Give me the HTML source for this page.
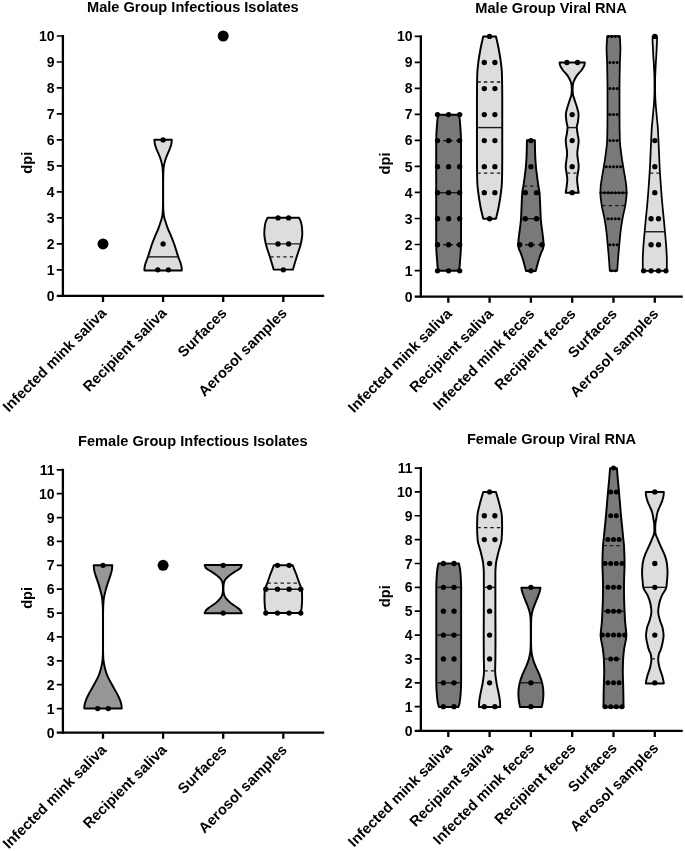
<!DOCTYPE html>
<html lang="en">
<head>
<meta charset="utf-8">
<title>Violin plots</title>
<style>html,body{margin:0;padding:0;background:#fff}svg{display:block}</style>
</head>
<body>
<svg width="685" height="851" viewBox="0 0 685 851" font-family='"Liberation Sans", Arial, Helvetica, sans-serif' font-weight="bold" fill="#000">
<rect width="685" height="851" fill="#fff"/>
<path d="M171.82 139.82 C171.67 141.15 171.59 142.48 171.38 143.81 C171.22 144.79 170.87 145.77 170.55 146.75 C169.92 148.71 168.94 150.66 168.15 152.62 C167.35 154.58 166.43 156.54 165.8 158.49 C165.16 160.45 164.58 162.41 164.18 164.37 C163.94 165.54 163.69 166.72 163.59 167.89 C163.44 169.65 163.34 171.42 163.3 173.18 C163.21 177.11 163.15 181.05 163.15 184.99 C163.15 189.99 163.15 195 163.15 200 C163.15 202.94 163.22 205.87 163.3 208.81 C163.36 210.77 163.52 212.73 163.74 214.68 C163.85 215.66 164.05 216.64 164.27 217.62 C164.7 219.58 165.45 221.54 166.09 223.49 C166.73 225.45 167.37 227.41 168.15 229.37 C168.48 230.21 168.89 231.05 169.26 231.9 C169.91 233.36 170.59 234.82 171.19 236.28 C172.25 238.85 173.27 241.42 174.17 243.99 C174.8 245.8 175.35 247.61 175.92 249.42 C176.66 251.75 177.32 254.09 178.11 256.42 C178.81 258.47 179.73 260.51 180.39 262.55 C180.76 263.72 181.19 264.89 181.4 266.06 C181.55 266.93 181.75 267.81 181.75 268.69 C181.75 269.27 181.75 269.85 181.75 270.44 L144.45 270.44 C144.45 269.85 144.45 269.27 144.45 268.69 C144.45 267.81 144.65 266.93 144.8 266.06 C145.01 264.89 145.44 263.72 145.81 262.55 C146.47 260.51 147.39 258.47 148.09 256.42 C148.88 254.09 149.54 251.75 150.28 249.42 C150.85 247.61 151.4 245.8 152.03 243.99 C152.93 241.42 153.95 238.85 155.01 236.28 C155.61 234.82 156.29 233.36 156.94 231.9 C157.31 231.05 157.72 230.21 158.05 229.37 C158.83 227.41 159.47 225.45 160.11 223.49 C160.75 221.54 161.5 219.58 161.93 217.62 C162.15 216.64 162.35 215.66 162.46 214.68 C162.68 212.73 162.84 210.77 162.9 208.81 C162.98 205.87 163.05 202.94 163.05 200 C163.05 195 163.05 189.99 163.05 184.99 C163.05 181.05 162.99 177.11 162.9 173.18 C162.86 171.42 162.76 169.65 162.61 167.89 C162.51 166.72 162.26 165.54 162.02 164.37 C161.62 162.41 161.04 160.45 160.4 158.49 C159.77 156.54 158.85 154.58 158.05 152.62 C157.26 150.66 156.28 148.71 155.65 146.75 C155.33 145.77 154.98 144.79 154.82 143.81 C154.61 142.48 154.53 141.15 154.38 139.82 Z" fill="#dddddd" stroke="#000" stroke-width="1.95" stroke-linejoin="round"/>
<path d="M147.92 256.87 H178.28" stroke="#1a1a1a" stroke-width="1.4" fill="none"/>
<circle cx="163.1" cy="139.94" r="2.65"/>
<circle cx="163.1" cy="243.88" r="2.65"/>
<circle cx="157.8" cy="269.87" r="2.65"/>
<circle cx="168.4" cy="269.87" r="2.65"/>
<path d="M299.07 217.69 C299.75 219.33 300.74 220.98 301.12 222.62 C301.58 224.58 301.94 226.54 302.06 228.49 C302.19 230.45 302.3 232.41 302.3 234.37 C302.3 237.5 301.47 240.63 300.83 243.77 C299.94 248.07 298.04 252.38 296.72 256.69 C295.4 261 294.17 265.3 292.9 269.61 L273.7 269.61 C272.43 265.3 271.2 261 269.88 256.69 C268.56 252.38 266.66 248.07 265.77 243.77 C265.13 240.63 264.3 237.5 264.3 234.37 C264.3 232.41 264.41 230.45 264.54 228.49 C264.66 226.54 265.02 224.58 265.48 222.62 C265.86 220.98 266.85 219.33 267.53 217.69 Z" fill="#dddddd" stroke="#000" stroke-width="1.95" stroke-linejoin="round"/>
<path d="M265.81 243.88 H300.79" stroke="#1a1a1a" stroke-width="1.4" fill="none"/>
<path d="M270.24 256.87 H296.66" stroke="#1a1a1a" stroke-width="1.3" stroke-dasharray="3.4 3.1" fill="none"/>
<circle cx="278" cy="217.9" r="2.65"/>
<circle cx="288.6" cy="217.9" r="2.65"/>
<circle cx="278" cy="243.88" r="2.65"/>
<circle cx="288.6" cy="243.88" r="2.65"/>
<circle cx="283.3" cy="269.87" r="2.65"/>
<circle cx="103" cy="243.88" r="5.5"/>
<circle cx="223.2" cy="36" r="5.5"/>
<path d="M62.9 35 V297" stroke="#000" stroke-width="2.3" fill="none"/>
<path d="M56.75 295.85 H324.2" stroke="#000" stroke-width="2.3" fill="none"/>
<path d="M56.75 269.87 h5.5 M56.75 243.88 h5.5 M56.75 217.9 h5.5 M56.75 191.91 h5.5 M56.75 165.93 h5.5 M56.75 139.94 h5.5 M56.75 113.96 h5.5 M56.75 87.97 h5.5 M56.75 61.99 h5.5 M56.75 36 h5.5" stroke="#000" stroke-width="1.7" fill="none"/>
<text x="54.55" y="300.9" text-anchor="end" font-size="14">0</text>
<text x="54.55" y="274.92" text-anchor="end" font-size="14">1</text>
<text x="54.55" y="248.93" text-anchor="end" font-size="14">2</text>
<text x="54.55" y="222.95" text-anchor="end" font-size="14">3</text>
<text x="54.55" y="196.96" text-anchor="end" font-size="14">4</text>
<text x="54.55" y="170.98" text-anchor="end" font-size="14">5</text>
<text x="54.55" y="144.99" text-anchor="end" font-size="14">6</text>
<text x="54.55" y="119.01" text-anchor="end" font-size="14">7</text>
<text x="54.55" y="93.02" text-anchor="end" font-size="14">8</text>
<text x="54.55" y="67.04" text-anchor="end" font-size="14">9</text>
<text x="54.55" y="41.05" text-anchor="end" font-size="14">10</text>
<path d="M103 296.7 v5.3 M163.1 296.7 v5.3 M223.2 296.7 v5.3 M283.3 296.7 v5.3" stroke="#000" stroke-width="2.3" fill="none"/>
<text transform="translate(107.4 314.05) rotate(-45)" text-anchor="end" font-size="14.7">Infected mink saliva</text>
<text transform="translate(167.5 314.05) rotate(-45)" text-anchor="end" font-size="14.7">Recipient saliva</text>
<text transform="translate(227.6 314.05) rotate(-45)" text-anchor="end" font-size="14.7">Surfaces</text>
<text transform="translate(287.7 314.05) rotate(-45)" text-anchor="end" font-size="14.7">Aerosol samples</text>
<text x="192.85" y="12.3" text-anchor="middle" font-size="14.6">Male Group Infectious Isolates</text>
<text transform="translate(31.8 162.7) rotate(-90)" text-anchor="middle" font-size="14.6">dpi</text>
<path d="M458.79 114.68 C459.08 116.05 459.49 117.43 459.67 118.8 C459.86 120.36 459.96 121.93 460.08 123.49 C460.38 127.41 460.75 131.33 460.84 135.24 C460.94 139.16 461.02 143.07 461.02 146.99 C461.02 154.82 461.02 162.65 461.02 170.48 C461.02 178.32 461.02 186.15 461.02 193.98 C461.02 200.48 461.02 206.99 461.02 213.49 C461.02 223.28 461.02 233.07 461.02 242.86 C461.02 245.6 460.89 248.35 460.78 251.09 C460.65 254.22 460.3 257.35 460.08 260.48 C459.94 262.44 459.87 264.4 459.67 266.36 C459.51 267.85 459.08 269.33 458.79 270.82 L438.41 270.82 C438.12 269.33 437.69 267.85 437.53 266.36 C437.33 264.4 437.26 262.44 437.12 260.48 C436.9 257.35 436.55 254.22 436.42 251.09 C436.31 248.35 436.18 245.6 436.18 242.86 C436.18 233.07 436.18 223.28 436.18 213.49 C436.18 206.99 436.18 200.48 436.18 193.98 C436.18 186.15 436.18 178.32 436.18 170.48 C436.18 162.65 436.18 154.82 436.18 146.99 C436.18 143.07 436.26 139.16 436.36 135.24 C436.45 131.33 436.82 127.41 437.12 123.49 C437.24 121.93 437.34 120.36 437.53 118.8 C437.71 117.43 438.12 116.05 438.41 114.68 Z" fill="#797979" stroke="#000" stroke-width="1.95" stroke-linejoin="round"/>
<path d="M436.18 192.69 H461.02" stroke="#1a1a1a" stroke-width="1.4" fill="none"/>
<path d="M436.54 244.77 H460.96" stroke="#1a1a1a" stroke-width="1.3" stroke-dasharray="3.4 3.1" fill="none"/>
<path d="M436.58 140.61 H460.92" stroke="#1a1a1a" stroke-width="1.3" stroke-dasharray="3.4 3.1" fill="none"/>
<circle cx="437.5" cy="270.81" r="2.65"/>
<circle cx="448.6" cy="270.81" r="2.65"/>
<circle cx="459.7" cy="270.81" r="2.65"/>
<circle cx="437.5" cy="244.77" r="2.65"/>
<circle cx="448.6" cy="244.77" r="2.65"/>
<circle cx="459.7" cy="244.77" r="2.65"/>
<circle cx="437.5" cy="218.73" r="2.65"/>
<circle cx="448.6" cy="218.73" r="2.65"/>
<circle cx="459.7" cy="218.73" r="2.65"/>
<circle cx="437.5" cy="192.69" r="2.65"/>
<circle cx="448.6" cy="192.69" r="2.65"/>
<circle cx="459.7" cy="192.69" r="2.65"/>
<circle cx="437.5" cy="166.65" r="2.65"/>
<circle cx="448.6" cy="166.65" r="2.65"/>
<circle cx="459.7" cy="166.65" r="2.65"/>
<circle cx="437.5" cy="140.61" r="2.65"/>
<circle cx="448.6" cy="140.61" r="2.65"/>
<circle cx="459.7" cy="140.61" r="2.65"/>
<circle cx="437.5" cy="114.57" r="2.65"/>
<circle cx="448.6" cy="114.57" r="2.65"/>
<circle cx="459.7" cy="114.57" r="2.65"/>
<path d="M495.97 36.51 C496.85 40.51 497.86 44.5 498.61 48.49 C499.49 53.19 500.33 57.89 500.9 62.59 C501.28 65.72 501.7 68.86 501.84 71.99 C502 75.51 502.09 79.04 502.13 82.56 C502.19 86.87 502.25 91.18 502.25 95.48 C502.25 109.24 502.25 122.99 502.25 136.75 C502.25 144.58 502.25 152.41 502.25 160.24 C502.25 164.55 502.19 168.86 502.13 173.16 C502.09 176.69 502 180.21 501.84 183.74 C501.71 186.79 501.28 189.85 500.9 192.9 C500.31 197.68 499.52 202.45 498.61 207.23 C497.88 211.07 496.85 214.91 495.97 218.74 L483.23 218.74 C482.35 214.91 481.32 211.07 480.59 207.23 C479.68 202.45 478.89 197.68 478.3 192.9 C477.92 189.85 477.49 186.79 477.36 183.74 C477.2 180.21 477.11 176.69 477.07 173.16 C477.01 168.86 476.95 164.55 476.95 160.24 C476.95 152.41 476.95 144.58 476.95 136.75 C476.95 122.99 476.95 109.24 476.95 95.48 C476.95 91.18 477.01 86.87 477.07 82.56 C477.11 79.04 477.2 75.51 477.36 71.99 C477.5 68.86 477.92 65.72 478.3 62.59 C478.87 57.89 479.71 53.19 480.59 48.49 C481.34 44.5 482.35 40.51 483.23 36.51 Z" fill="#dddddd" stroke="#000" stroke-width="1.95" stroke-linejoin="round"/>
<path d="M476.95 127.59 H502.25" stroke="#1a1a1a" stroke-width="1.4" fill="none"/>
<path d="M477.37 173.16 H502.13" stroke="#1a1a1a" stroke-width="1.3" stroke-dasharray="3.4 3.1" fill="none"/>
<path d="M477.38 82.02 H502.12" stroke="#1a1a1a" stroke-width="1.3" stroke-dasharray="3.4 3.1" fill="none"/>
<circle cx="489.6" cy="218.73" r="2.65"/>
<circle cx="484.3" cy="192.69" r="2.65"/>
<circle cx="494.9" cy="192.69" r="2.65"/>
<circle cx="484.3" cy="166.65" r="2.65"/>
<circle cx="494.9" cy="166.65" r="2.65"/>
<circle cx="484.3" cy="140.61" r="2.65"/>
<circle cx="494.9" cy="140.61" r="2.65"/>
<circle cx="484.3" cy="114.57" r="2.65"/>
<circle cx="494.9" cy="114.57" r="2.65"/>
<circle cx="484.3" cy="88.53" r="2.65"/>
<circle cx="494.9" cy="88.53" r="2.65"/>
<circle cx="484.3" cy="62.49" r="2.65"/>
<circle cx="494.9" cy="62.49" r="2.65"/>
<circle cx="489.6" cy="36.45" r="2.65"/>
<path d="M534.86 140.27 C534.96 144.97 535 149.67 535.15 154.37 C535.28 158.48 535.58 162.59 535.92 166.7 C536.22 170.42 536.78 174.14 537.27 177.86 C537.63 180.6 538.02 183.35 538.44 186.09 C538.79 188.36 539.37 190.63 539.56 192.9 C539.94 197.68 540.04 202.45 540.26 207.23 C540.45 211.15 540.54 215.06 540.79 218.98 C541.14 224.4 542.11 229.82 542.73 235.24 C542.93 237 543.19 238.77 543.32 240.53 C543.42 241.98 543.55 243.43 543.55 244.88 C543.55 246.05 543.32 247.22 543.08 248.4 C542.86 249.5 542.06 250.59 541.61 251.69 C540.67 254.04 539.83 256.39 539.09 258.74 C537.79 262.85 536.82 266.96 535.68 271.07 L526.12 271.07 C524.98 266.96 524.01 262.85 522.71 258.74 C521.97 256.39 521.13 254.04 520.19 251.69 C519.74 250.59 518.94 249.5 518.72 248.4 C518.48 247.22 518.25 246.05 518.25 244.88 C518.25 243.43 518.38 241.98 518.48 240.53 C518.61 238.77 518.87 237 519.07 235.24 C519.69 229.82 520.66 224.4 521.01 218.98 C521.26 215.06 521.35 211.15 521.54 207.23 C521.76 202.45 521.86 197.68 522.24 192.9 C522.43 190.63 523.01 188.36 523.36 186.09 C523.78 183.35 524.17 180.6 524.53 177.86 C525.02 174.14 525.58 170.42 525.88 166.7 C526.22 162.59 526.52 158.48 526.65 154.37 C526.8 149.67 526.84 144.97 526.94 140.27 Z" fill="#797979" stroke="#000" stroke-width="1.95" stroke-linejoin="round"/>
<path d="M521.02 218.73 H540.78" stroke="#1a1a1a" stroke-width="1.4" fill="none"/>
<path d="M518.55 244.77 H543.55" stroke="#1a1a1a" stroke-width="1.3" stroke-dasharray="3.4 3.1" fill="none"/>
<path d="M523.64 186.18 H538.46" stroke="#1a1a1a" stroke-width="1.3" stroke-dasharray="3.4 3.1" fill="none"/>
<circle cx="530.9" cy="270.81" r="2.65"/>
<circle cx="519.7" cy="244.77" r="2.65"/>
<circle cx="530.9" cy="244.77" r="2.65"/>
<circle cx="542.1" cy="244.77" r="2.65"/>
<circle cx="525.3" cy="218.73" r="2.65"/>
<circle cx="536.5" cy="218.73" r="2.65"/>
<circle cx="525.3" cy="192.69" r="2.65"/>
<circle cx="536.5" cy="192.69" r="2.65"/>
<circle cx="530.9" cy="166.65" r="2.65"/>
<circle cx="530.9" cy="140.61" r="2.65"/>
<path d="M584.82 62.41 C584.7 63.29 584.63 64.17 584.44 65.05 C584.1 66.61 582.85 68.18 581.8 69.75 C580.48 71.71 578.08 73.66 576.81 75.62 C575.53 77.58 574.33 79.54 573.72 81.49 C573.29 82.87 572.87 84.24 572.78 85.61 C572.68 87.17 572.61 88.74 572.61 90.31 C572.61 91.68 572.76 93.05 572.93 94.42 C573.12 95.98 573.83 97.55 574.31 99.12 C574.79 100.68 575.33 102.25 575.84 103.81 C576.29 105.21 576.83 106.6 577.19 107.99 C577.76 110.21 578.57 112.44 578.57 114.66 C578.57 116.89 578.25 119.13 577.98 121.36 C577.73 123.43 576.81 125.51 576.81 127.58 C576.81 129.82 577.37 132.05 577.69 134.28 C577.99 136.45 578.68 138.61 578.68 140.78 C578.68 145.01 577.27 149.24 577.27 153.47 C577.27 157.89 578.68 162.32 578.68 166.74 C578.68 170.93 577.1 175.12 577.1 179.31 C577.1 182.05 577.59 184.79 577.92 187.53 C578.13 189.3 578.43 191.06 578.68 192.82 L565.72 192.82 C565.97 191.06 566.27 189.3 566.48 187.53 C566.81 184.79 567.3 182.05 567.3 179.31 C567.3 175.12 565.72 170.93 565.72 166.74 C565.72 162.32 567.13 157.89 567.13 153.47 C567.13 149.24 565.72 145.01 565.72 140.78 C565.72 138.61 566.41 136.45 566.71 134.28 C567.03 132.05 567.59 129.82 567.59 127.58 C567.59 125.51 566.67 123.43 566.42 121.36 C566.15 119.13 565.83 116.89 565.83 114.66 C565.83 112.44 566.64 110.21 567.21 107.99 C567.57 106.6 568.11 105.21 568.56 103.81 C569.07 102.25 569.61 100.68 570.09 99.12 C570.57 97.55 571.28 95.98 571.47 94.42 C571.64 93.05 571.79 91.68 571.79 90.31 C571.79 88.74 571.72 87.17 571.62 85.61 C571.53 84.24 571.11 82.87 570.68 81.49 C570.07 79.54 568.87 77.58 567.59 75.62 C566.32 73.66 563.92 71.71 562.6 69.75 C561.55 68.18 560.3 66.61 559.96 65.05 C559.77 64.17 559.7 63.29 559.58 62.41 Z" fill="#dddddd" stroke="#000" stroke-width="1.95" stroke-linejoin="round"/>
<path d="M567.59 127.59 H576.81" stroke="#1a1a1a" stroke-width="1.4" fill="none"/>
<path d="M566.83 173.16 H577.87" stroke="#1a1a1a" stroke-width="1.3" stroke-dasharray="3.4 3.1" fill="none"/>
<circle cx="572.2" cy="192.69" r="2.65"/>
<circle cx="572.2" cy="166.65" r="2.65"/>
<circle cx="572.2" cy="140.61" r="2.65"/>
<circle cx="572.2" cy="114.57" r="2.65"/>
<circle cx="566.9" cy="62.49" r="2.65"/>
<circle cx="577.5" cy="62.49" r="2.65"/>
<path d="M619.79 36.16 C620.01 40.27 620.44 44.38 620.44 48.49 C620.44 53.19 620.02 57.89 619.91 62.59 C619.71 71.32 619.5 80.06 619.5 88.79 C619.5 97.48 619.5 106.17 619.5 114.87 C619.5 123.45 619.62 132.03 619.85 140.61 C619.97 145 620.71 149.38 621.26 153.77 C621.8 158.07 622.51 162.38 623.2 166.69 C623.88 171 624.74 175.3 625.37 179.61 C625.74 182.16 626.21 184.7 626.37 187.25 C626.48 189.09 626.6 190.93 626.6 192.77 C626.6 194.65 626.41 196.53 626.25 198.41 C626.03 200.95 625.57 203.5 625.14 206.04 C624.4 210.39 623.18 214.74 622.43 219.08 C621.66 223.59 620.95 228.09 620.44 232.59 C619.96 236.82 619.65 241.05 619.26 245.28 C618.86 249.66 618.44 254.05 618.09 258.44 C617.76 262.55 617.5 266.66 617.21 270.77 L609.79 270.77 C609.5 266.66 609.24 262.55 608.91 258.44 C608.56 254.05 608.14 249.66 607.74 245.28 C607.35 241.05 607.04 236.82 606.56 232.59 C606.05 228.09 605.34 223.59 604.57 219.08 C603.82 214.74 602.6 210.39 601.86 206.04 C601.43 203.5 600.97 200.95 600.75 198.41 C600.59 196.53 600.4 194.65 600.4 192.77 C600.4 190.93 600.52 189.09 600.63 187.25 C600.79 184.7 601.26 182.16 601.63 179.61 C602.26 175.3 603.12 171 603.8 166.69 C604.49 162.38 605.2 158.07 605.74 153.77 C606.29 149.38 607.03 145 607.15 140.61 C607.38 132.03 607.5 123.45 607.5 114.87 C607.5 106.17 607.5 97.48 607.5 88.79 C607.5 80.06 607.29 71.32 607.09 62.59 C606.98 57.89 606.56 53.19 606.56 48.49 C606.56 44.38 606.99 40.27 607.21 36.16 Z" fill="#797979" stroke="#000" stroke-width="1.75" stroke-linejoin="round"/>
<path d="M600.4 192.69 H626.6" stroke="#1a1a1a" stroke-width="1.4" fill="none"/>
<path d="M602.12 205.71 H625.18" stroke="#1a1a1a" stroke-width="1.3" stroke-dasharray="3.4 3.1" fill="none"/>
<circle cx="611.7" cy="270.81" r="1.5"/>
<circle cx="615.3" cy="270.81" r="1.5"/>
<circle cx="609.9" cy="244.77" r="1.5"/>
<circle cx="613.5" cy="244.77" r="1.5"/>
<circle cx="617.1" cy="244.77" r="1.5"/>
<circle cx="608.1" cy="218.73" r="1.5"/>
<circle cx="611.7" cy="218.73" r="1.5"/>
<circle cx="615.3" cy="218.73" r="1.5"/>
<circle cx="618.9" cy="218.73" r="1.5"/>
<circle cx="600.9" cy="192.69" r="1.5"/>
<circle cx="604.5" cy="192.69" r="1.5"/>
<circle cx="608.1" cy="192.69" r="1.5"/>
<circle cx="611.7" cy="192.69" r="1.5"/>
<circle cx="615.3" cy="192.69" r="1.5"/>
<circle cx="618.9" cy="192.69" r="1.5"/>
<circle cx="622.5" cy="192.69" r="1.5"/>
<circle cx="626.1" cy="192.69" r="1.5"/>
<circle cx="606.3" cy="166.65" r="1.5"/>
<circle cx="609.9" cy="166.65" r="1.5"/>
<circle cx="613.5" cy="166.65" r="1.5"/>
<circle cx="617.1" cy="166.65" r="1.5"/>
<circle cx="620.7" cy="166.65" r="1.5"/>
<circle cx="609.9" cy="140.61" r="1.5"/>
<circle cx="613.5" cy="140.61" r="1.5"/>
<circle cx="617.1" cy="140.61" r="1.5"/>
<circle cx="609.9" cy="114.57" r="1.5"/>
<circle cx="613.5" cy="114.57" r="1.5"/>
<circle cx="617.1" cy="114.57" r="1.5"/>
<circle cx="609.9" cy="88.53" r="1.5"/>
<circle cx="613.5" cy="88.53" r="1.5"/>
<circle cx="617.1" cy="88.53" r="1.5"/>
<circle cx="609.9" cy="62.49" r="1.5"/>
<circle cx="613.5" cy="62.49" r="1.5"/>
<circle cx="617.1" cy="62.49" r="1.5"/>
<circle cx="608.1" cy="36.45" r="1.5"/>
<circle cx="611.7" cy="36.45" r="1.5"/>
<circle cx="615.3" cy="36.45" r="1.5"/>
<circle cx="618.9" cy="36.45" r="1.5"/>
<path d="M656.95 36.22 C656.99 37.4 657.07 38.57 657.07 39.75 C657.07 41.71 656.9 43.66 656.8 45.62 C656.71 47.58 656.61 49.54 656.51 51.49 C656.41 53.45 656.33 55.41 656.22 57.37 C656.1 59.33 655.91 61.28 655.8 63.24 C655.7 65.2 655.63 67.16 655.54 69.12 C655.41 72.07 655.19 75.03 655.16 77.99 C655.12 81.91 655.1 85.83 655.1 89.75 C655.1 93.66 655.29 97.58 655.48 101.49 C655.62 104.43 655.96 107.37 656.22 110.31 C656.47 113.24 656.74 116.18 657.01 119.12 C657.28 122.07 657.64 125.03 657.83 127.99 C658.11 132.19 658.25 136.39 658.45 140.59 C658.63 144.39 658.8 148.19 658.98 151.99 C659.2 156.88 659.37 161.78 659.62 166.67 C659.98 173.53 660.5 180.38 660.97 187.23 C661.1 189.11 661.24 190.99 661.38 192.87 C661.74 197.5 662.13 202.12 662.56 206.75 C662.94 210.86 663.4 214.97 663.79 219.08 C664.2 223.39 664.59 227.7 664.97 232 C665.35 236.31 665.8 240.62 666.08 244.93 C666.4 249.82 666.85 254.72 666.85 259.61 C666.85 262.35 666.85 265.09 666.85 267.83 C666.85 268.81 666.61 269.79 666.49 270.77 L643.11 270.77 C642.99 269.79 642.75 268.81 642.75 267.83 C642.75 265.09 642.75 262.35 642.75 259.61 C642.75 254.72 643.2 249.82 643.52 244.93 C643.8 240.62 644.25 236.31 644.63 232 C645.01 227.7 645.4 223.39 645.81 219.08 C646.2 214.97 646.66 210.86 647.04 206.75 C647.47 202.12 647.86 197.5 648.22 192.87 C648.36 190.99 648.5 189.11 648.63 187.23 C649.1 180.38 649.62 173.53 649.98 166.67 C650.23 161.78 650.4 156.88 650.62 151.99 C650.8 148.19 650.97 144.39 651.15 140.59 C651.35 136.39 651.49 132.19 651.77 127.99 C651.96 125.03 652.32 122.07 652.59 119.12 C652.86 116.18 653.13 113.24 653.38 110.31 C653.64 107.37 653.98 104.43 654.12 101.49 C654.31 97.58 654.5 93.66 654.5 89.75 C654.5 85.83 654.48 81.91 654.44 77.99 C654.41 75.03 654.19 72.07 654.06 69.12 C653.97 67.16 653.9 65.2 653.8 63.24 C653.69 61.28 653.5 59.33 653.38 57.37 C653.27 55.41 653.19 53.45 653.09 51.49 C652.99 49.54 652.89 47.58 652.8 45.62 C652.7 43.66 652.53 41.71 652.53 39.75 C652.53 38.57 652.61 37.4 652.65 36.22 Z" fill="#dddddd" stroke="#000" stroke-width="1.75" stroke-linejoin="round"/>
<path d="M644.66 231.75 H664.94" stroke="#1a1a1a" stroke-width="1.4" fill="none"/>
<path d="M649.85 173.16 H660.05" stroke="#1a1a1a" stroke-width="1.3" stroke-dasharray="3.4 3.1" fill="none"/>
<circle cx="643.62" cy="270.81" r="2.65"/>
<circle cx="651.07" cy="270.81" r="2.65"/>
<circle cx="658.52" cy="270.81" r="2.65"/>
<circle cx="665.97" cy="270.81" r="2.65"/>
<circle cx="651.07" cy="244.77" r="2.65"/>
<circle cx="658.52" cy="244.77" r="2.65"/>
<circle cx="651.07" cy="218.73" r="2.65"/>
<circle cx="658.52" cy="218.73" r="2.65"/>
<circle cx="654.8" cy="192.69" r="2.65"/>
<circle cx="654.8" cy="166.65" r="2.65"/>
<circle cx="654.8" cy="140.61" r="2.65"/>
<circle cx="654.8" cy="36.45" r="2.65"/>
<path d="M420.85 35.35 V297.7" stroke="#000" stroke-width="2.3" fill="none"/>
<path d="M414.7 296.55 H682.8" stroke="#000" stroke-width="2.3" fill="none"/>
<path d="M414.7 270.53 h5.5 M414.7 244.51 h5.5 M414.7 218.49 h5.5 M414.7 192.47 h5.5 M414.7 166.45 h5.5 M414.7 140.43 h5.5 M414.7 114.41 h5.5 M414.7 88.39 h5.5 M414.7 62.37 h5.5 M414.7 36.35 h5.5" stroke="#000" stroke-width="1.7" fill="none"/>
<text x="412.5" y="301.6" text-anchor="end" font-size="14">0</text>
<text x="412.5" y="275.58" text-anchor="end" font-size="14">1</text>
<text x="412.5" y="249.56" text-anchor="end" font-size="14">2</text>
<text x="412.5" y="223.54" text-anchor="end" font-size="14">3</text>
<text x="412.5" y="197.52" text-anchor="end" font-size="14">4</text>
<text x="412.5" y="171.5" text-anchor="end" font-size="14">5</text>
<text x="412.5" y="145.48" text-anchor="end" font-size="14">6</text>
<text x="412.5" y="119.46" text-anchor="end" font-size="14">7</text>
<text x="412.5" y="93.44" text-anchor="end" font-size="14">8</text>
<text x="412.5" y="67.42" text-anchor="end" font-size="14">9</text>
<text x="412.5" y="41.4" text-anchor="end" font-size="14">10</text>
<path d="M448.3 297.4 v5.3 M489.6 297.4 v5.3 M530.9 297.4 v5.3 M572.2 297.4 v5.3 M613.5 297.4 v5.3 M654.8 297.4 v5.3" stroke="#000" stroke-width="2.3" fill="none"/>
<text transform="translate(452.7 314.75) rotate(-45)" text-anchor="end" font-size="14.7">Infected mink saliva</text>
<text transform="translate(494 314.75) rotate(-45)" text-anchor="end" font-size="14.7">Recipient saliva</text>
<text transform="translate(535.3 314.75) rotate(-45)" text-anchor="end" font-size="14.7">Infected mink feces</text>
<text transform="translate(576.6 314.75) rotate(-45)" text-anchor="end" font-size="14.7">Recipient feces</text>
<text transform="translate(617.9 314.75) rotate(-45)" text-anchor="end" font-size="14.7">Surfaces</text>
<text transform="translate(659.2 314.75) rotate(-45)" text-anchor="end" font-size="14.7">Aerosol samples</text>
<text x="551" y="12.8" text-anchor="middle" font-size="14.6">Male Group Viral RNA</text>
<text transform="translate(389.85 163.5) rotate(-90)" text-anchor="middle" font-size="14.6">dpi</text>
<path d="M112.32 565.34 C112.17 566.85 112.09 568.37 111.88 569.89 C111.56 572.23 110.63 574.56 109.91 576.9 C109.19 579.23 108.23 581.57 107.5 583.91 C106.86 585.95 106.29 587.99 105.75 590.04 C105.2 592.08 104.57 594.12 104.21 596.17 C103.91 597.92 103.66 599.67 103.51 601.42 C103.35 603.47 103.21 605.51 103.16 607.55 C103.1 610.47 103.05 613.39 103.05 616.31 C103.05 627.54 103.05 638.77 103.05 650 C103.05 652.92 103.17 655.84 103.34 658.76 C103.42 660.22 103.68 661.68 103.91 663.14 C104.14 664.6 104.45 666.06 104.78 667.52 C105.12 668.98 105.51 670.44 105.97 671.9 C106.43 673.36 107.01 674.82 107.63 676.28 C108.26 677.74 109.02 679.2 109.78 680.66 C110.53 682.12 111.38 683.58 112.19 685.04 C113 686.5 113.83 687.96 114.64 689.42 C115.45 690.88 116.29 692.34 117.05 693.8 C117.8 695.26 118.57 696.72 119.19 698.18 C119.82 699.64 120.46 701.09 120.86 702.55 C121.17 703.72 121.51 704.89 121.6 706.06 C121.67 706.88 121.69 707.69 121.73 708.51 L84.27 708.51 C84.31 707.69 84.33 706.88 84.4 706.06 C84.49 704.89 84.83 703.72 85.14 702.55 C85.54 701.09 86.18 699.64 86.81 698.18 C87.43 696.72 88.2 695.26 88.95 693.8 C89.71 692.34 90.55 690.88 91.36 689.42 C92.17 687.96 93 686.5 93.81 685.04 C94.62 683.58 95.47 682.12 96.22 680.66 C96.98 679.2 97.74 677.74 98.37 676.28 C98.99 674.82 99.57 673.36 100.03 671.9 C100.49 670.44 100.88 668.98 101.22 667.52 C101.55 666.06 101.86 664.6 102.09 663.14 C102.32 661.68 102.58 660.22 102.66 658.76 C102.83 655.84 102.95 652.92 102.95 650 C102.95 638.77 102.95 627.54 102.95 616.31 C102.95 613.39 102.9 610.47 102.84 607.55 C102.79 605.51 102.65 603.47 102.49 601.42 C102.34 599.67 102.09 597.92 101.79 596.17 C101.43 594.12 100.8 592.08 100.25 590.04 C99.71 587.99 99.14 585.95 98.5 583.91 C97.77 581.57 96.81 579.23 96.09 576.9 C95.37 574.56 94.44 572.23 94.12 569.89 C93.91 568.37 93.83 566.85 93.68 565.34 Z" fill="#979797" stroke="#000" stroke-width="1.95" stroke-linejoin="round"/>
<circle cx="103" cy="565.31" r="2.65"/>
<circle cx="97.7" cy="708.53" r="2.65"/>
<circle cx="108.3" cy="708.53" r="2.65"/>
<circle cx="163.1" cy="565.31" r="5.5"/>
<path d="M241.76 565.05 C241.36 565.99 241.18 566.93 240.58 567.87 C239.95 568.85 237.93 569.83 236.47 570.81 C235.01 571.79 233.17 572.77 231.77 573.75 C230.37 574.73 228.99 575.71 227.95 576.68 C226.91 577.66 225.9 578.64 225.31 579.62 C224.72 580.6 224.21 581.58 223.99 582.56 C223.77 583.54 223.61 584.52 223.55 585.49 C223.47 586.67 223.4 587.84 223.4 589.02 C223.4 590.19 223.54 591.37 223.69 592.54 C223.82 593.52 224.09 594.5 224.43 595.48 C224.76 596.46 225.36 597.44 226.04 598.42 C226.72 599.4 227.79 600.37 228.83 601.35 C229.87 602.33 231.05 603.31 232.36 604.29 C233.66 605.27 235.46 606.25 236.76 607.23 C238.07 608.21 239.62 609.19 240.29 610.16 C240.99 611.2 241.27 612.24 241.76 613.28 L204.64 613.28 C205.13 612.24 205.41 611.2 206.11 610.16 C206.78 609.19 208.33 608.21 209.64 607.23 C210.94 606.25 212.74 605.27 214.04 604.29 C215.35 603.31 216.53 602.33 217.57 601.35 C218.61 600.37 219.68 599.4 220.36 598.42 C221.04 597.44 221.64 596.46 221.97 595.48 C222.31 594.5 222.58 593.52 222.71 592.54 C222.86 591.37 223 590.19 223 589.02 C223 587.84 222.93 586.67 222.85 585.49 C222.79 584.52 222.63 583.54 222.41 582.56 C222.19 581.58 221.68 580.6 221.09 579.62 C220.5 578.64 219.49 577.66 218.45 576.68 C217.41 575.71 216.03 574.73 214.63 573.75 C213.23 572.77 211.39 571.79 209.93 570.81 C208.47 569.83 206.45 568.85 205.82 567.87 C205.22 566.93 205.04 565.99 204.64 565.05 Z" fill="#979797" stroke="#000" stroke-width="1.95" stroke-linejoin="round"/>
<circle cx="223.2" cy="565.31" r="2.65"/>
<circle cx="223.2" cy="613.05" r="2.65"/>
<path d="M292.72 565.26 C294.01 568.59 295.38 571.91 296.6 575.24 C297.57 577.91 298.39 580.57 299.36 583.23 C300.07 585.19 301.27 587.15 301.59 589.1 C301.8 590.36 301.96 591.61 302 592.86 C302.07 594.82 302.12 596.78 302.12 598.74 C302.12 601.87 301.9 605 301.59 608.14 C301.43 609.78 300.81 611.42 300.42 613.07 L266.18 613.07 C265.79 611.42 265.17 609.78 265.01 608.14 C264.7 605 264.48 601.87 264.48 598.74 C264.48 596.78 264.53 594.82 264.6 592.86 C264.64 591.61 264.8 590.36 265.01 589.1 C265.33 587.15 266.53 585.19 267.24 583.23 C268.21 580.57 269.03 577.91 270 575.24 C271.22 571.91 272.59 568.59 273.88 565.26 Z" fill="#dddddd" stroke="#000" stroke-width="1.95" stroke-linejoin="round"/>
<path d="M265 589.18 H301.6" stroke="#1a1a1a" stroke-width="1.4" fill="none"/>
<path d="M267.55 583.21 H299.35" stroke="#1a1a1a" stroke-width="1.3" stroke-dasharray="3.4 3.1" fill="none"/>
<circle cx="277.48" cy="565.31" r="2.65"/>
<circle cx="289.12" cy="565.31" r="2.65"/>
<circle cx="265.82" cy="589.18" r="2.65"/>
<circle cx="277.48" cy="589.18" r="2.65"/>
<circle cx="289.12" cy="589.18" r="2.65"/>
<circle cx="300.78" cy="589.18" r="2.65"/>
<circle cx="265.82" cy="613.05" r="2.65"/>
<circle cx="277.48" cy="613.05" r="2.65"/>
<circle cx="289.12" cy="613.05" r="2.65"/>
<circle cx="300.78" cy="613.05" r="2.65"/>
<path d="M62.9 468.83 V733.75" stroke="#000" stroke-width="2.3" fill="none"/>
<path d="M56.75 732.6 H324.2" stroke="#000" stroke-width="2.3" fill="none"/>
<path d="M56.75 708.53 h5.5 M56.75 684.66 h5.5 M56.75 660.79 h5.5 M56.75 636.92 h5.5 M56.75 613.05 h5.5 M56.75 589.18 h5.5 M56.75 565.31 h5.5 M56.75 541.44 h5.5 M56.75 517.57 h5.5 M56.75 493.7 h5.5 M56.75 469.83 h5.5" stroke="#000" stroke-width="1.7" fill="none"/>
<text x="54.55" y="737.65" text-anchor="end" font-size="14">0</text>
<text x="54.55" y="713.58" text-anchor="end" font-size="14">1</text>
<text x="54.55" y="689.71" text-anchor="end" font-size="14">2</text>
<text x="54.55" y="665.84" text-anchor="end" font-size="14">3</text>
<text x="54.55" y="641.97" text-anchor="end" font-size="14">4</text>
<text x="54.55" y="618.1" text-anchor="end" font-size="14">5</text>
<text x="54.55" y="594.23" text-anchor="end" font-size="14">6</text>
<text x="54.55" y="570.36" text-anchor="end" font-size="14">7</text>
<text x="54.55" y="546.49" text-anchor="end" font-size="14">8</text>
<text x="54.55" y="522.62" text-anchor="end" font-size="14">9</text>
<text x="54.55" y="498.75" text-anchor="end" font-size="14">10</text>
<text x="54.55" y="474.88" text-anchor="end" font-size="14">11</text>
<path d="M103 733.45 v5.3 M163.1 733.45 v5.3 M223.2 733.45 v5.3 M283.3 733.45 v5.3" stroke="#000" stroke-width="2.3" fill="none"/>
<text transform="translate(107.4 750.8) rotate(-45)" text-anchor="end" font-size="14.7">Infected mink saliva</text>
<text transform="translate(167.5 750.8) rotate(-45)" text-anchor="end" font-size="14.7">Recipient saliva</text>
<text transform="translate(227.6 750.8) rotate(-45)" text-anchor="end" font-size="14.7">Surfaces</text>
<text transform="translate(287.7 750.8) rotate(-45)" text-anchor="end" font-size="14.7">Aerosol samples</text>
<text x="192.8" y="445.8" text-anchor="middle" font-size="14.6">Female Group Infectious Isolates</text>
<text transform="translate(31.75 597.9) rotate(-90)" text-anchor="middle" font-size="14.6">dpi</text>
<path d="M458.89 563.56 C459.24 565.21 459.7 566.85 459.94 568.49 C460.23 570.45 460.46 572.41 460.59 574.37 C460.86 578.68 461.12 582.98 461.12 587.29 C461.12 596.69 461.12 606.09 461.12 615.48 C461.12 623.32 461.12 631.15 461.12 638.98 C461.12 645.78 461.12 652.57 461.12 659.37 C461.12 667.2 461.12 675.03 461.12 682.86 C461.12 687.17 460.79 691.48 460.47 695.79 C460.3 698.14 460.01 700.48 459.59 702.83 C459.34 704.2 458.81 705.58 458.42 706.95 L438.98 706.95 C438.59 705.58 438.06 704.2 437.81 702.83 C437.39 700.48 437.1 698.14 436.93 695.79 C436.61 691.48 436.28 687.17 436.28 682.86 C436.28 675.03 436.28 667.2 436.28 659.37 C436.28 652.57 436.28 645.78 436.28 638.98 C436.28 631.15 436.28 623.32 436.28 615.48 C436.28 606.09 436.28 596.69 436.28 587.29 C436.28 582.98 436.54 578.68 436.81 574.37 C436.94 572.41 437.17 570.45 437.46 568.49 C437.7 566.85 438.16 565.21 438.51 563.56 Z" fill="#797979" stroke="#000" stroke-width="1.95" stroke-linejoin="round"/>
<path d="M436.28 635.06 H461.12" stroke="#1a1a1a" stroke-width="1.4" fill="none"/>
<path d="M436.28 682.78 H461.12" stroke="#1a1a1a" stroke-width="1.4" fill="none"/>
<path d="M436.28 587.34 H461.12" stroke="#1a1a1a" stroke-width="1.4" fill="none"/>
<circle cx="443.4" cy="706.64" r="2.65"/>
<circle cx="454" cy="706.64" r="2.65"/>
<circle cx="443.4" cy="682.78" r="2.65"/>
<circle cx="454" cy="682.78" r="2.65"/>
<circle cx="443.4" cy="658.92" r="2.65"/>
<circle cx="454" cy="658.92" r="2.65"/>
<circle cx="443.4" cy="635.06" r="2.65"/>
<circle cx="454" cy="635.06" r="2.65"/>
<circle cx="443.4" cy="611.2" r="2.65"/>
<circle cx="454" cy="611.2" r="2.65"/>
<circle cx="443.4" cy="587.34" r="2.65"/>
<circle cx="454" cy="587.34" r="2.65"/>
<circle cx="443.4" cy="563.48" r="2.65"/>
<circle cx="454" cy="563.48" r="2.65"/>
<path d="M495.97 492.03 C497.14 496.15 498.53 500.26 499.49 504.37 C500.41 508.28 501.67 512.2 501.84 516.12 C502.01 520.03 502.13 523.95 502.13 527.86 C502.13 531.9 501.88 535.93 501.55 539.96 C501.23 543.76 499.5 547.56 498.61 551.36 C497.65 555.47 496.37 559.58 495.97 563.69 C495.68 566.67 495.38 569.65 495.38 572.62 C495.38 577.63 495.38 582.65 495.38 587.66 C495.38 595.57 495.38 603.48 495.38 611.39 C495.38 619.42 495.5 627.44 495.5 635.47 C495.5 643.44 495.45 651.4 495.38 659.37 C495.35 663.28 495.14 667.2 495.14 671.12 C495.14 675.11 495.96 679.1 496.55 683.1 C497.13 686.94 498.27 690.77 498.9 694.61 C499.36 697.35 499.96 700.09 500.08 702.83 C500.14 704.2 500.16 705.58 500.2 706.95 L479 706.95 C479.04 705.58 479.06 704.2 479.12 702.83 C479.24 700.09 479.84 697.35 480.3 694.61 C480.93 690.77 482.07 686.94 482.65 683.1 C483.24 679.1 484.06 675.11 484.06 671.12 C484.06 667.2 483.85 663.28 483.82 659.37 C483.75 651.4 483.7 643.44 483.7 635.47 C483.7 627.44 483.82 619.42 483.82 611.39 C483.82 603.48 483.82 595.57 483.82 587.66 C483.82 582.65 483.82 577.63 483.82 572.62 C483.82 569.65 483.52 566.67 483.23 563.69 C482.83 559.58 481.55 555.47 480.59 551.36 C479.7 547.56 477.97 543.76 477.65 539.96 C477.32 535.93 477.07 531.9 477.07 527.86 C477.07 523.95 477.19 520.03 477.36 516.12 C477.53 512.2 478.79 508.28 479.71 504.37 C480.67 500.26 482.06 496.15 483.23 492.03 Z" fill="#dddddd" stroke="#000" stroke-width="1.95" stroke-linejoin="round"/>
<path d="M483.82 587.34 H495.38" stroke="#1a1a1a" stroke-width="1.4" fill="none"/>
<path d="M484.35 670.85 H495.15" stroke="#1a1a1a" stroke-width="1.3" stroke-dasharray="3.4 3.1" fill="none"/>
<path d="M477.37 527.69 H502.13" stroke="#1a1a1a" stroke-width="1.3" stroke-dasharray="3.4 3.1" fill="none"/>
<circle cx="484.3" cy="706.64" r="2.65"/>
<circle cx="494.9" cy="706.64" r="2.65"/>
<circle cx="489.6" cy="682.78" r="2.65"/>
<circle cx="489.6" cy="658.92" r="2.65"/>
<circle cx="489.6" cy="635.06" r="2.65"/>
<circle cx="489.6" cy="611.2" r="2.65"/>
<circle cx="489.6" cy="587.34" r="2.65"/>
<circle cx="489.6" cy="563.48" r="2.65"/>
<circle cx="484.3" cy="539.62" r="2.65"/>
<circle cx="494.9" cy="539.62" r="2.65"/>
<circle cx="484.3" cy="515.76" r="2.65"/>
<circle cx="494.9" cy="515.76" r="2.65"/>
<circle cx="489.6" cy="491.9" r="2.65"/>
<path d="M540.44 587.7 C540.26 588.72 540.14 589.74 539.91 590.77 C539.46 592.81 538.57 594.85 537.81 596.9 C537.27 598.36 536.64 599.82 536.06 601.28 C535.47 602.74 534.85 604.2 534.3 605.66 C533.76 607.12 533.19 608.58 532.77 610.04 C532.36 611.5 531.94 612.96 531.72 614.42 C531.5 615.88 531.3 617.34 531.24 618.8 C531.11 621.72 531.02 624.64 531.02 627.55 C531.02 631.7 531.02 635.85 531.02 640 C531.02 642.92 531.11 645.84 531.24 648.76 C531.3 650.22 531.48 651.68 531.68 653.14 C531.87 654.6 532.2 656.06 532.55 657.52 C532.9 658.98 533.37 660.44 533.87 661.9 C534.37 663.36 535 664.82 535.62 666.28 C536.24 667.74 536.93 669.2 537.59 670.66 C538.25 672.12 538.99 673.58 539.56 675.04 C540.13 676.5 540.62 677.96 541.09 679.42 C541.49 680.64 541.92 681.87 542.19 683.09 C542.56 684.79 542.92 686.48 543.06 688.18 C543.24 690.22 543.41 692.26 543.41 694.31 C543.41 696.64 543.12 698.98 542.84 701.31 C542.62 703.21 542.11 705.11 541.75 707.01 L520.05 707.01 C519.69 705.11 519.18 703.21 518.96 701.31 C518.68 698.98 518.39 696.64 518.39 694.31 C518.39 692.26 518.56 690.22 518.74 688.18 C518.88 686.48 519.24 684.79 519.61 683.09 C519.88 681.87 520.31 680.64 520.71 679.42 C521.18 677.96 521.67 676.5 522.24 675.04 C522.81 673.58 523.55 672.12 524.21 670.66 C524.87 669.2 525.56 667.74 526.18 666.28 C526.8 664.82 527.43 663.36 527.93 661.9 C528.43 660.44 528.9 658.98 529.25 657.52 C529.6 656.06 529.93 654.6 530.12 653.14 C530.32 651.68 530.5 650.22 530.56 648.76 C530.69 645.84 530.78 642.92 530.78 640 C530.78 635.85 530.78 631.7 530.78 627.55 C530.78 624.64 530.69 621.72 530.56 618.8 C530.5 617.34 530.3 615.88 530.08 614.42 C529.86 612.96 529.44 611.5 529.03 610.04 C528.61 608.58 528.04 607.12 527.5 605.66 C526.95 604.2 526.33 602.74 525.74 601.28 C525.16 599.82 524.53 598.36 523.99 596.9 C523.23 594.85 522.34 592.81 521.89 590.77 C521.66 589.74 521.54 588.72 521.36 587.7 Z" fill="#797979" stroke="#000" stroke-width="1.95" stroke-linejoin="round"/>
<path d="M519.71 682.78 H542.09" stroke="#1a1a1a" stroke-width="1.4" fill="none"/>
<circle cx="530.9" cy="706.64" r="2.65"/>
<circle cx="530.9" cy="682.78" r="2.65"/>
<circle cx="530.9" cy="587.34" r="2.65"/>
<path d="M616.93 468.16 C617.2 471.6 617.46 475.05 617.75 478.49 C618.15 483.12 618.63 487.74 619.04 492.36 C619.33 495.57 619.6 498.78 619.87 501.99 C620.26 506.69 620.61 511.39 621.04 516.09 C621.4 520 621.83 523.92 622.22 527.83 C622.61 531.83 622.99 535.82 623.39 539.82 C623.58 541.76 623.88 543.7 623.98 545.64 C624.31 551.79 624.57 557.93 624.57 564.08 C624.57 567.8 624.3 571.52 624.21 575.24 C624.11 579.43 623.98 583.62 623.98 587.81 C623.98 591.45 624.04 595.1 624.1 598.74 C624.17 603.04 624.38 607.35 624.57 611.66 C624.72 615.18 624.91 618.71 625.15 622.23 C625.45 626.62 626.33 631 626.33 635.39 C626.33 639.76 624.76 644.13 624.21 648.49 C623.76 652.14 623.24 655.78 623.1 659.42 C622.94 663.61 622.8 667.8 622.8 671.99 C622.8 675.71 623 679.43 623.1 683.15 C623.2 687.26 623.33 691.37 623.39 695.48 C623.45 699.4 623.47 703.32 623.51 707.23 L603.49 707.23 C603.53 703.32 603.55 699.4 603.61 695.48 C603.67 691.37 603.8 687.26 603.9 683.15 C604 679.43 604.2 675.71 604.2 671.99 C604.2 667.8 604.06 663.61 603.9 659.42 C603.76 655.78 603.24 652.14 602.79 648.49 C602.24 644.13 600.67 639.76 600.67 635.39 C600.67 631 601.55 626.62 601.85 622.23 C602.09 618.71 602.28 615.18 602.43 611.66 C602.62 607.35 602.83 603.04 602.9 598.74 C602.96 595.1 603.02 591.45 603.02 587.81 C603.02 583.62 602.89 579.43 602.79 575.24 C602.7 571.52 602.43 567.8 602.43 564.08 C602.43 557.93 602.69 551.79 603.02 545.64 C603.12 543.7 603.42 541.76 603.61 539.82 C604.01 535.82 604.39 531.83 604.78 527.83 C605.17 523.92 605.6 520 605.96 516.09 C606.39 511.39 606.74 506.69 607.13 501.99 C607.4 498.78 607.67 495.57 607.96 492.36 C608.37 487.74 608.85 483.12 609.25 478.49 C609.54 475.05 609.8 471.6 610.07 468.16 Z" fill="#797979" stroke="#000" stroke-width="1.95" stroke-linejoin="round"/>
<path d="M602.45 611.2 H624.55" stroke="#1a1a1a" stroke-width="1.4" fill="none"/>
<path d="M604.15 658.92 H623.15" stroke="#1a1a1a" stroke-width="1.3" stroke-dasharray="3.4 3.1" fill="none"/>
<path d="M603.33 545.59 H623.97" stroke="#1a1a1a" stroke-width="1.3" stroke-dasharray="3.4 3.1" fill="none"/>
<circle cx="605.1" cy="706.64" r="2.5"/>
<circle cx="610.7" cy="706.64" r="2.5"/>
<circle cx="616.3" cy="706.64" r="2.5"/>
<circle cx="621.9" cy="706.64" r="2.5"/>
<circle cx="607.9" cy="682.78" r="2.5"/>
<circle cx="613.5" cy="682.78" r="2.5"/>
<circle cx="619.1" cy="682.78" r="2.5"/>
<circle cx="610.7" cy="658.92" r="2.5"/>
<circle cx="616.3" cy="658.92" r="2.5"/>
<circle cx="602.3" cy="635.06" r="2.5"/>
<circle cx="607.9" cy="635.06" r="2.5"/>
<circle cx="613.5" cy="635.06" r="2.5"/>
<circle cx="619.1" cy="635.06" r="2.5"/>
<circle cx="624.7" cy="635.06" r="2.5"/>
<circle cx="607.9" cy="611.2" r="2.5"/>
<circle cx="613.5" cy="611.2" r="2.5"/>
<circle cx="619.1" cy="611.2" r="2.5"/>
<circle cx="607.9" cy="587.34" r="2.5"/>
<circle cx="613.5" cy="587.34" r="2.5"/>
<circle cx="619.1" cy="587.34" r="2.5"/>
<circle cx="605.1" cy="563.48" r="2.5"/>
<circle cx="610.7" cy="563.48" r="2.5"/>
<circle cx="616.3" cy="563.48" r="2.5"/>
<circle cx="621.9" cy="563.48" r="2.5"/>
<circle cx="607.9" cy="539.62" r="2.5"/>
<circle cx="613.5" cy="539.62" r="2.5"/>
<circle cx="619.1" cy="539.62" r="2.5"/>
<circle cx="610.7" cy="515.76" r="2.5"/>
<circle cx="616.3" cy="515.76" r="2.5"/>
<circle cx="610.7" cy="491.9" r="2.5"/>
<circle cx="616.3" cy="491.9" r="2.5"/>
<circle cx="613.5" cy="468.04" r="2.5"/>
<path d="M663.81 492.03 C663.75 493.01 663.72 493.99 663.63 494.97 C663.46 496.94 662.8 498.91 662.2 500.87 C661.59 502.83 660.51 504.79 659.7 506.75 C658.89 508.71 657.84 510.66 657.35 512.62 C656.86 514.58 656.65 516.54 656.29 518.49 C656.04 519.87 655.68 521.24 655.53 522.61 C655.43 523.49 655.34 524.37 655.31 525.26 C655.26 527.01 655.23 528.76 655.23 530.51 C655.23 531.68 655.39 532.85 655.58 534.01 C655.76 535.18 656.55 536.35 657.02 537.52 C657.62 538.98 658.16 540.44 658.77 541.9 C659.39 543.36 660.09 544.82 660.74 546.28 C661.4 547.74 662.07 549.2 662.72 550.66 C663.37 552.12 664.09 553.58 664.64 555.04 C665.19 556.5 665.72 557.96 666.09 559.42 C666.45 560.88 666.78 562.34 666.96 563.8 C667.14 565.26 667.28 566.72 667.36 568.18 C667.44 569.64 667.53 571.09 667.53 572.55 C667.53 574.01 667.44 575.47 667.36 576.93 C667.28 578.39 667.11 579.85 666.96 581.31 C666.76 583.36 666.66 585.4 666.31 587.45 C665.85 590.04 663.15 592.64 662.05 595.24 C660.89 597.98 659.74 600.72 659.23 603.47 C658.72 606.21 658.17 608.95 658.17 611.69 C658.17 614.82 659.33 617.95 660.17 621.09 C660.8 623.44 662.2 625.79 662.64 628.14 C663.1 630.6 663.58 633.07 663.58 635.54 C663.58 637.77 663.04 640 662.64 642.23 C662.06 645.36 661.4 648.5 660.05 651.63 C659.87 652.05 659.36 652.47 659.23 652.89 C658.58 655.05 658.17 657.2 658.17 659.35 C658.17 661.9 658.82 664.44 659.35 666.99 C659.99 670.12 661.58 673.26 662.4 676.39 C662.81 677.95 663.18 679.52 663.46 681.09 C663.6 681.87 663.69 682.65 663.81 683.44 L645.79 683.44 C645.91 682.65 646 681.87 646.14 681.09 C646.42 679.52 646.79 677.95 647.2 676.39 C648.02 673.26 649.61 670.12 650.25 666.99 C650.78 664.44 651.43 661.9 651.43 659.35 C651.43 657.2 651.02 655.05 650.37 652.89 C650.24 652.47 649.73 652.05 649.55 651.63 C648.2 648.5 647.54 645.36 646.96 642.23 C646.56 640 646.02 637.77 646.02 635.54 C646.02 633.07 646.5 630.6 646.96 628.14 C647.4 625.79 648.8 623.44 649.43 621.09 C650.27 617.95 651.43 614.82 651.43 611.69 C651.43 608.95 650.88 606.21 650.37 603.47 C649.86 600.72 648.71 597.98 647.55 595.24 C646.45 592.64 643.75 590.04 643.29 587.45 C642.94 585.4 642.84 583.36 642.64 581.31 C642.49 579.85 642.32 578.39 642.24 576.93 C642.16 575.47 642.07 574.01 642.07 572.55 C642.07 571.09 642.16 569.64 642.24 568.18 C642.32 566.72 642.46 565.26 642.64 563.8 C642.82 562.34 643.15 560.88 643.51 559.42 C643.88 557.96 644.41 556.5 644.96 555.04 C645.51 553.58 646.23 552.12 646.88 550.66 C647.53 549.2 648.2 547.74 648.86 546.28 C649.51 544.82 650.21 543.36 650.83 541.9 C651.44 540.44 651.98 538.98 652.58 537.52 C653.05 536.35 653.84 535.18 654.02 534.01 C654.21 532.85 654.37 531.68 654.37 530.51 C654.37 528.76 654.34 527.01 654.29 525.26 C654.26 524.37 654.17 523.49 654.07 522.61 C653.92 521.24 653.56 519.87 653.31 518.49 C652.95 516.54 652.74 514.58 652.25 512.62 C651.76 510.66 650.71 508.71 649.9 506.75 C649.09 504.79 648.01 502.83 647.4 500.87 C646.8 498.91 646.14 496.94 645.97 494.97 C645.88 493.99 645.85 493.01 645.79 492.03 Z" fill="#dddddd" stroke="#000" stroke-width="1.95" stroke-linejoin="round"/>
<path d="M643.28 587.34 H666.32" stroke="#1a1a1a" stroke-width="1.4" fill="none"/>
<path d="M651.66 658.92 H658.24" stroke="#1a1a1a" stroke-width="1.3" stroke-dasharray="3.4 3.1" fill="none"/>
<circle cx="654.8" cy="682.78" r="2.65"/>
<circle cx="654.8" cy="635.06" r="2.65"/>
<circle cx="654.8" cy="587.34" r="2.65"/>
<circle cx="654.8" cy="563.48" r="2.65"/>
<circle cx="654.8" cy="491.9" r="2.65"/>
<path d="M420.85 467.04 V732" stroke="#000" stroke-width="2.3" fill="none"/>
<path d="M414.7 730.85 H682.8" stroke="#000" stroke-width="2.3" fill="none"/>
<path d="M414.7 706.64 h5.5 M414.7 682.78 h5.5 M414.7 658.92 h5.5 M414.7 635.06 h5.5 M414.7 611.2 h5.5 M414.7 587.34 h5.5 M414.7 563.48 h5.5 M414.7 539.62 h5.5 M414.7 515.76 h5.5 M414.7 491.9 h5.5 M414.7 468.04 h5.5" stroke="#000" stroke-width="1.7" fill="none"/>
<text x="412.5" y="735.9" text-anchor="end" font-size="14">0</text>
<text x="412.5" y="711.69" text-anchor="end" font-size="14">1</text>
<text x="412.5" y="687.83" text-anchor="end" font-size="14">2</text>
<text x="412.5" y="663.97" text-anchor="end" font-size="14">3</text>
<text x="412.5" y="640.11" text-anchor="end" font-size="14">4</text>
<text x="412.5" y="616.25" text-anchor="end" font-size="14">5</text>
<text x="412.5" y="592.39" text-anchor="end" font-size="14">6</text>
<text x="412.5" y="568.53" text-anchor="end" font-size="14">7</text>
<text x="412.5" y="544.67" text-anchor="end" font-size="14">8</text>
<text x="412.5" y="520.81" text-anchor="end" font-size="14">9</text>
<text x="412.5" y="496.95" text-anchor="end" font-size="14">10</text>
<text x="412.5" y="473.09" text-anchor="end" font-size="14">11</text>
<path d="M448.3 731.7 v5.3 M489.6 731.7 v5.3 M530.9 731.7 v5.3 M572.2 731.7 v5.3 M613.5 731.7 v5.3 M654.8 731.7 v5.3" stroke="#000" stroke-width="2.3" fill="none"/>
<text transform="translate(452.7 749.05) rotate(-45)" text-anchor="end" font-size="14.7">Infected mink saliva</text>
<text transform="translate(494 749.05) rotate(-45)" text-anchor="end" font-size="14.7">Recipient saliva</text>
<text transform="translate(535.3 749.05) rotate(-45)" text-anchor="end" font-size="14.7">Infected mink feces</text>
<text transform="translate(576.6 749.05) rotate(-45)" text-anchor="end" font-size="14.7">Recipient feces</text>
<text transform="translate(617.9 749.05) rotate(-45)" text-anchor="end" font-size="14.7">Surfaces</text>
<text transform="translate(659.2 749.05) rotate(-45)" text-anchor="end" font-size="14.7">Aerosol samples</text>
<text x="551.5" y="444.2" text-anchor="middle" font-size="14.6">Female Group Viral RNA</text>
<text transform="translate(389.85 596.25) rotate(-90)" text-anchor="middle" font-size="14.6">dpi</text>
</svg>
</body>
</html>
